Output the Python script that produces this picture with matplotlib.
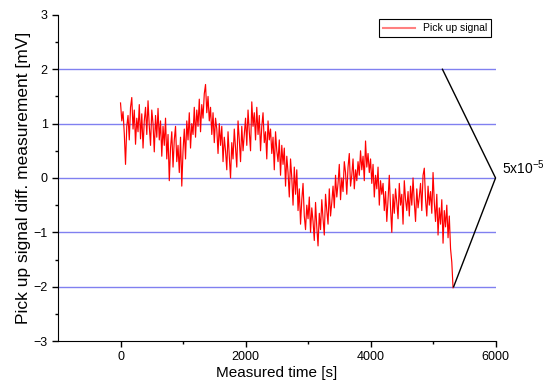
import numpy as np
import matplotlib.pyplot as plt

plt.rcParams['font.family'] = ['Liberation Sans', 'DejaVu Sans']
plt.rcParams['mathtext.default'] = 'regular'

t_step = 20
signal = [
    1.38, 1.05, 1.22, 0.82, 0.25, 0.95, 1.15, 0.70, 1.30, 1.48,
    0.90, 1.25, 0.62, 1.10, 0.85, 1.35, 0.72, 1.18, 0.55, 1.05,
    1.30, 0.80, 1.42, 0.95, 0.60, 1.25, 1.00, 0.48, 1.15, 0.75,
    1.28, 0.70, 1.05, 0.40, 0.95, 0.60, 1.10, 0.35, 0.80, -0.05,
    0.55, 0.85, 0.20, 0.70, 0.95, 0.30, 0.60, 0.10, 0.75, -0.15,
    0.50, 0.90, 0.35, 1.05, 0.70, 1.20, 0.55, 1.00, 0.80, 1.30,
    0.75, 1.25, 0.95, 1.45, 0.85, 1.35, 1.10, 1.55, 1.72, 1.20,
    1.50, 1.05, 1.30, 0.80, 1.20, 0.65, 1.10, 0.90, 0.45, 1.00,
    0.60, 0.95, 0.30, 0.75, 0.50, 0.15, 0.85, 0.40, 0.00, 0.65,
    0.35, 0.90, 0.55, 0.20, 1.05, 0.70, 0.30, 0.95, 0.50, 0.80,
    1.10, 0.60, 1.25, 0.85, 0.50, 1.40, 0.95, 1.20, 0.70, 1.30,
    0.80, 1.15, 0.50, 0.95, 1.20, 0.65, 0.85, 0.35, 1.05, 0.70,
    0.90, 0.45, 0.75, 0.15, 0.85, 0.50, 0.30, 0.70, 0.05, 0.60,
    0.25, 0.55, -0.15, 0.40, 0.10, -0.35, 0.35, 0.00, -0.50, 0.20,
    -0.30, 0.15, -0.60, -0.20, -0.85, -0.40, -0.10, -0.70, -0.95, -0.50,
    -0.75, -0.35, -1.00, -0.55, -0.80, -1.15, -0.45, -0.90, -1.25, -0.65,
    -0.95, -0.40, -0.75, -1.05, -0.30, -0.60, -0.85, -0.20, -0.70, -0.45,
    -0.15, -0.55, 0.05, -0.35, -0.10, 0.25, -0.40, 0.00, -0.25, 0.30,
    0.10, -0.30, 0.20, 0.45, -0.15, 0.05, 0.35, -0.20, 0.15, -0.05,
    0.30, 0.05, 0.50, 0.15, 0.40, -0.05, 0.68, 0.20, 0.45, 0.10,
    0.35, -0.10, 0.25, -0.35, 0.05, -0.20, 0.20, -0.50, -0.05, -0.30,
    -0.10, -0.60, -0.25, -0.80, -0.40, 0.05, -0.55, -1.00, -0.30, -0.65,
    -0.20, -0.45, -0.75, -0.10, -0.50, -0.30, -0.85, -0.05, -0.40, -0.60,
    -0.25, -0.70, -0.15, -0.50, 0.00, -0.45, -0.80, -0.20, -0.55, -0.35,
    -0.10, -0.60, 0.05, 0.18, -0.40, -0.70, -0.15, -0.50, -0.25, -0.65,
    0.10, -0.45, -0.80, -0.30, -1.05, -0.55, -0.85, -0.40, -1.20, -0.60,
    -0.90, -0.50, -1.10, -0.70, -1.30, -1.55, -2.02,
]
t = np.arange(len(signal)) * t_step

grid_levels = [-2, -1, 0, 1, 2]
# the "5x10^-5" bracket
bracket_x = [5150, 6000, 5330]
bracket_y = [2, 0, -2]

fig = plt.figure(figsize=(5.5, 3.92), dpi=100)
ax = fig.add_axes([0.1055, 0.130, 0.7955, 0.832])

for lv in grid_levels:
    ax.axhline(lv, color='#8080f0', lw=1.0, zorder=1)

ax.plot(t, signal, color='red', lw=0.85, label='Pick up signal', zorder=3)
ax.plot(bracket_x, bracket_y, color='black', lw=1.0, zorder=4, clip_on=False)
ax.text(6110, 0.18, '5x10$^{-5}$', fontsize=10, va='center', ha='left',
        clip_on=False)

ax.set_xlim(-1000, 6000)
ax.set_ylim(-3, 3)
ax.set_xticks([0, 2000, 4000, 6000])
ax.set_xticks([1000, 3000, 5000], minor=True)
ax.set_yticks([-3, -2, -1, 0, 1, 2, 3])
ax.set_yticks(np.arange(-2.5, 3, 1.0), minor=True)
ax.tick_params(which='major', direction='out', length=4, width=1, labelsize=9)
ax.tick_params(which='minor', direction='out', length=2.5, width=1)
ax.spines['top'].set_visible(False)
ax.spines['right'].set_visible(False)

ax.set_xlabel('Measured time [s]', fontsize=11, labelpad=2)
ax.set_ylabel('Pick up signal diff. measurement [mV]', fontsize=12.5, labelpad=2)

leg = ax.legend(loc='upper right', fontsize=7.5, fancybox=False, framealpha=1,
                edgecolor='black', handlelength=3, borderaxespad=0.4,
                borderpad=0.4)
leg.get_frame().set_linewidth(0.8)
leg_line = leg.get_lines()[0]
leg_line.set_color('#ff8080')
leg_line.set_linewidth(1.5)

fig.savefig('out.png', dpi=100)
